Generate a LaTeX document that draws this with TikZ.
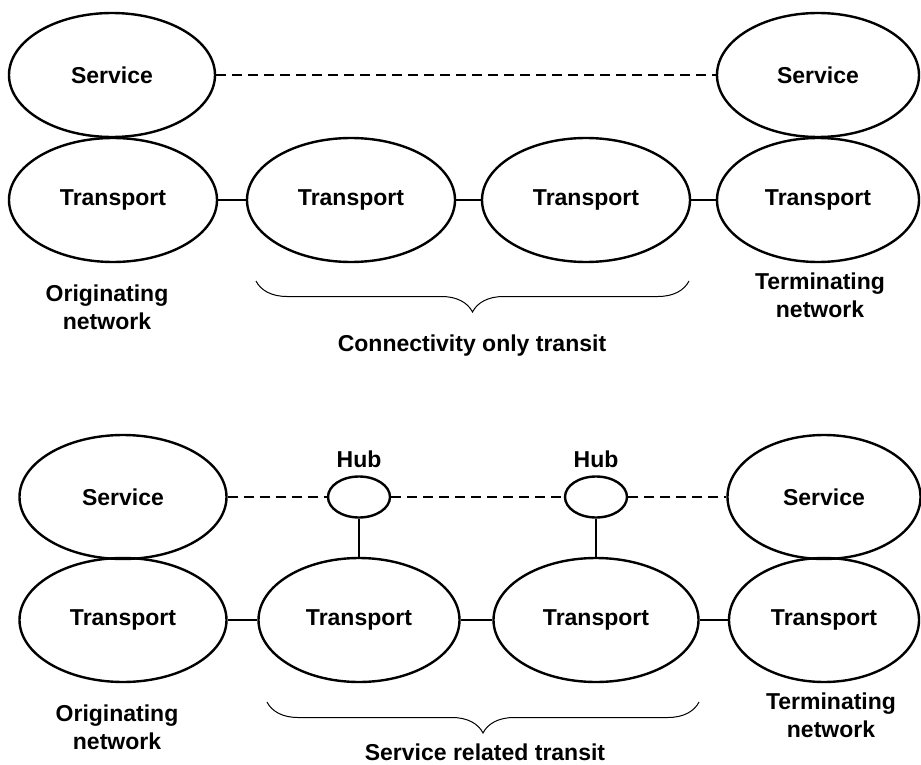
\documentclass[tikz,border=0pt]{standalone}
\usepackage{fontspec}
\setmainfont{Liberation Sans}
\usepackage{tikz}
\usetikzlibrary{shapes.geometric, decorations.pathreplacing}

\begin{document}
\begin{tikzpicture}[x=1pt, y=-1pt, line width=2.4pt, font=\fontsize{23}{28}\selectfont\bfseries]
	\tikzstyle{oval} = [draw=black, ellipse, inner sep=0pt, minimum height=124pt]
	\tikzstyle{hub} = [draw=black, ellipse, inner sep=0pt, minimum width=62pt, minimum height=41pt]
	\tikzstyle{invis} = [draw=none, align=center, inner sep=0pt]
	\tikzstyle{dashline} = [dash pattern=on 10pt off 6pt]
	\tikzstyle{curly} = [decorate, decoration={brace, amplitude=31pt}, line width=1pt]
	
	\useasboundingbox (0, 0) rectangle (921, 765);
	
	% connectivity only transit
	\node[oval, minimum width=206pt]	at (112, 75)	(s0)	{Service};
	\node[oval, minimum width=202pt]	at (818, 75)	(s1)	{Service};
	\node[oval, minimum width=208pt]	at (113, 200)	(t0)	{Transport};
	\node[oval, minimum width=208pt]	at (351, 200)	(t1)	{Transport};
	\node[oval, minimum width=208pt]	at (586, 200)	(t2)	{Transport};
	\node[oval, minimum width=202pt]	at (818, 200)	(t3)	{Transport};
	\node[invis]			at (107, 307)	(q0)	{Originating\\network};
	\node[invis]			at (820, 295)	(q1)	{Terminating\\network};
	\node[invis]			at (472, 346)	(q2)	{Connectivity only transit};
	
	% service related transit
	\node[oval, minimum width=207pt]	at (123, 497)	(s2)	{Service};
	\node[oval, minimum width=193pt]	at (824, 497)	(s3)	{Service};
	\node[hub, label={[label distance=3pt]above:Hub}]	at (359, 497)	(h0)	{};
	\node[hub, label={[label distance=3pt]above:Hub}]	at (596, 497)	(h1)	{};
	\node[oval, minimum width=207pt]	at (123, 620)	(t4)	{Transport};
	\node[oval, minimum width=201pt]	at (359, 620)	(t5)	{Transport};
	\node[oval, minimum width=205pt]	at (596, 620)	(t6)	{Transport};
	\node[oval, minimum width=190pt]	at (824, 620)	(t7)	{Transport};
	\node[invis]			at (117, 727)	(q3)	{Originating\\network};
	\node[invis]			at (831, 715)	(q4)	{Terminating\\network};
	\node[invis]			at (485, 752)	(q5)	{Service related transit};
	
	\path[draw]
	(t0)	edge	(t1)
	(t1)	edge	(t2)
	(t2)	edge	(t3)
	(t4)	edge	(t5)
	(t5)	edge	(t6)
	(t6)	edge	(t7)
	(h0)	edge	(t5)
	(h1)	edge	(t6);
	
	\path[draw, dashline]
	(s0)	edge	(s1)
	(s2)	edge	(h0)
	(h0)	edge	(h1)
	(h1)	edge	(s3);
	
	\draw[curly] (689, 281) -- (256, 281);
	\draw[curly] (699, 702) -- (267, 702);
\end{tikzpicture}
\end{document}
